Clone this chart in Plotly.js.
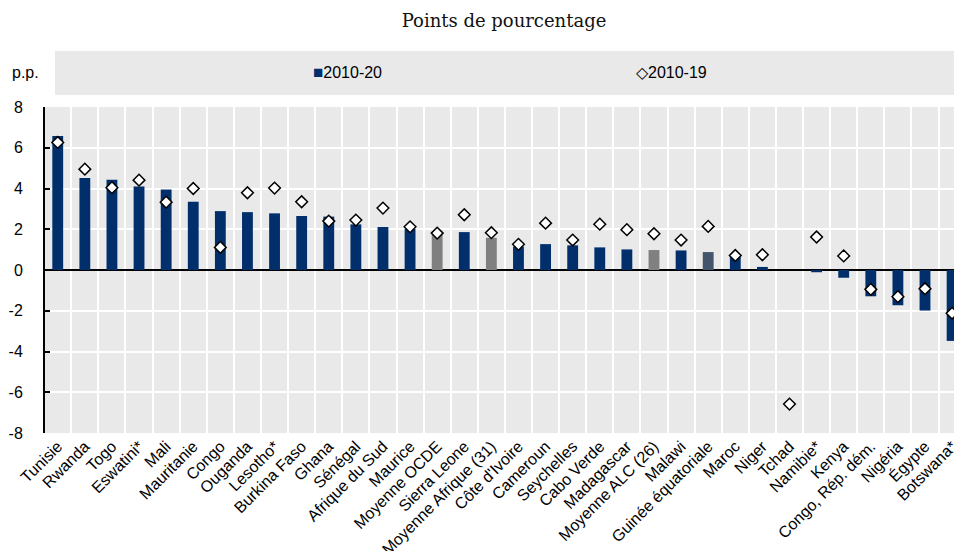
<!DOCTYPE html>
<html>
<head>
<meta charset="utf-8">
<script src="https://cdn.plot.ly/plotly-3.0.1.min.js"></script>
<style>html,body{margin:0;padding:0;background:#fff;}#chart{width:954px;height:551px;}</style>
</head>
<body>
<div id="chart"></div>
<script>
const categories = ["Tunisie","Rwanda","Togo","Eswatini*","Mali","Mauritanie","Congo","Ouganda","Lesotho*","Burkina Faso","Ghana","Sénégal","Afrique du Sud","Maurice","Moyenne OCDE","Sierra Leone","Moyenne Afrique (31)","Côte d'Ivoire","Cameroun","Seychelles","Cabo Verde","Madagascar","Moyenne ALC (26)","Malawi","Guinée équatoriale","Maroc","Niger","Tchad","Namibie*","Kenya","Congo, Rép. dém.","Nigéria","Égypte","Botswana*"];
const values2010_20 = [6.58,4.51,4.43,4.10,3.95,3.35,2.89,2.84,2.78,2.65,2.62,2.24,2.11,2.01,1.75,1.86,1.58,1.15,1.27,1.21,1.11,1.01,0.98,0.96,0.88,0.65,0.15,null,-0.11,-0.38,-1.29,-1.73,-1.99,-3.48];
const values2010_19 = [6.26,4.95,4.04,4.41,3.33,4.00,1.11,3.79,4.02,3.35,2.40,2.45,3.04,2.12,1.81,2.71,1.83,1.26,2.30,1.47,2.25,1.98,1.78,1.47,2.14,0.71,0.75,-6.58,1.62,0.69,-0.95,-1.31,-0.92,-2.12];
const groupType = ["c","c","c","c","c","c","c","c","c","c","c","c","c","c","avg","c","avg","c","c","c","c","c","avg","c","gq","c","c","c","c","c","c","c","c","c"];
const yTickVals = [-8,-6,-4,-2,0,2,4,6,8];
const yTickText = ["-8","-6","-4","-2","0","2","4","6","8"];

const colorMap = {c:"#002f6c", avg:"#808080", gq:"#44546a"};
const barColors = groupType.map(g => colorMap[g]);
const boundaries = categories.slice(1).map((_, i) => i + 0.5);
const xr = [-0.47, 33.07];
const sans = "Liberation Sans, Arial, sans-serif";

const traces = [
  {
    type: "bar", name: "2010-20", x: categories, y: values2010_20,
    width: 0.4, marker: {color: barColors, line: {width: 0}},
    showlegend: false, hoverinfo: "x+y"
  },
  {
    type: "scatter", mode: "markers", name: "2010-19", x: categories, y: values2010_19,
    marker: {symbol: "diamond", size: 9, color: "#ffffff", line: {color: "#000000", width: 1.5}},
    showlegend: false, hoverinfo: "x+y"
  }
];

const layout = {
  width: 954, height: 551,
  margin: {l: 45, r: 0, t: 107, b: 118, pad: 0},
  paper_bgcolor: "#ffffff", plot_bgcolor: "#e9e9e9",
  font: {family: sans, size: 16, color: "#000"},
  title: {
    text: "Points de pourcentage",
    font: {family: "DejaVu Serif, serif", size: 18, color: "#111"},
    x: 504/954, xanchor: "center", xref: "container",
    y: 1 - 21/551, yanchor: "middle", yref: "container"
  },
  xaxis: {
    type: "category", range: xr, tickson: "boundaries", automargin: false,
    showgrid: true, gridcolor: "#ffffff", gridwidth: 2,
    ticks: "", showline: false, zeroline: false,
    tickangle: -45, tickfont: {family: sans, size: 16, color: "#000"},
    fixedrange: true
  },
  xaxis2: {
    overlaying: "x", anchor: "free", position: 0.5, side: "bottom",
    type: "linear", range: xr, tickmode: "array", tickvals: boundaries,
    ticks: "inside", ticklen: 5, tickwidth: 2, tickcolor: "#000",
    showticklabels: false, showgrid: false, zeroline: false, showline: false
  },
  yaxis: {
    range: [-8, 8], tickmode: "array", tickvals: yTickVals, ticktext: yTickText,
    automargin: false,
    showgrid: true, gridcolor: "#ffffff", gridwidth: 2,
    zeroline: true, zerolinecolor: "#000", zerolinewidth: 2,
    showline: true, linecolor: "#000", linewidth: 2,
    ticks: "inside", ticklen: 5, tickwidth: 2, tickcolor: "#000",
    ticklabelstandoff: 17,
    tickfont: {family: sans, size: 16, color: "#000"},
    fixedrange: true
  },
  shapes: [
    {type: "rect", xref: "paper", yref: "paper",
     x0: (55-45)/909, x1: 1.01, y0: (433-95)/326, y1: (433-51)/326,
     fillcolor: "#e9e9e9", line: {width: 0}, layer: "below"}
  ],
  annotations: [
    {xref: "paper", yref: "paper", x: (25-45)/909, y: (433-73)/326,
     text: "p.p.", showarrow: false, xanchor: "center", yanchor: "middle",
     font: {family: sans, size: 16, color: "#000"}},
    {xref: "paper", yref: "paper", x: (311-45)/909, y: (433-73)/326,
     text: "<span style='color:#002f6c;font-size:17px'>■</span>2010-20", showarrow: false, xanchor: "left", yanchor: "middle",
     font: {family: sans, size: 16, color: "#000"}},
    {xref: "paper", yref: "paper", x: (634-45)/909, y: (433-73)/326,
     text: "◇2010-19", showarrow: false, xanchor: "left", yanchor: "middle",
     font: {family: sans, size: 16, color: "#000"}}
  ]
};

Plotly.newPlot("chart", traces, layout, {displayModeBar: false, staticPlot: true});
</script>
</body>
</html>
